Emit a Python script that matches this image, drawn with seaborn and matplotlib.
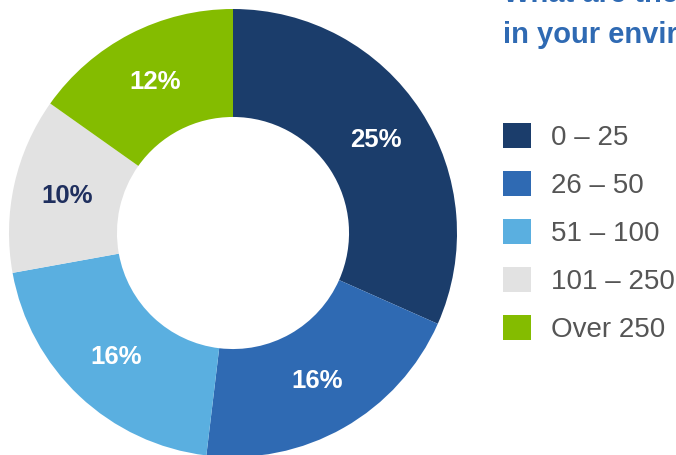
import matplotlib
matplotlib.use("Agg")
import matplotlib.pyplot as plt
import seaborn as sns

# Team size buckets and share of respondents (%)
categories = ["0 \u2013 25", "26 \u2013 50", "51 \u2013 100", "101 \u2013 250", "Over 250"]
shares = [25, 16, 16, 10, 12]
colors = ["#1b3d6b", "#2f6ab3", "#5aafe0", "#e2e2e2", "#84bc00"]
label_colors = ["white", "white", "white", "#1f2f5e", "white"]
title = "What are the typical team sizes\nin your environment?"

sns.set_theme(style="white")
plt.rcParams["font.family"] = ["Liberation Sans", "DejaVu Sans"]
palette = sns.color_palette(colors)

W, H = 676, 455
fig = plt.figure(figsize=(W / 100, H / 100), dpi=100)
fig.patch.set_facecolor("white")

# Donut occupies a square region on the left
cx, cy, r = 233, 233, 224
ax = fig.add_axes([(cx - r) / W, (H - cy - r) / H, 2 * r / W, 2 * r / H])
total = sum(shares)
wedges, _, autotexts = ax.pie(
    shares,
    colors=palette,
    startangle=90,
    counterclock=False,
    radius=1,
    wedgeprops=dict(width=0.482, linewidth=0),
    autopct=lambda p: f"{round(p * total / 100)}%",
    pctdistance=0.76,
    textprops=dict(fontsize=18.5, fontweight="bold"),
)
for t, c in zip(autotexts, label_colors):
    t.set_color(c)
ax.set_xlim(-1, 1)
ax.set_ylim(-1, 1)
ax.set_aspect("equal")
ax.axis("off")

# Title, partly running off the top-right edge
fig.text(503 / W, 1 - 43 / H, title, ha="left", va="baseline",
         fontsize=21, fontweight="bold", color="#2f6ab3",
         linespacing=1.6)

# Legend
fs = 20
fig.legend(
    wedges, categories,
    loc="upper left",
    bbox_to_anchor=(503 / W, 1 - 123 / H),
    frameon=False,
    fontsize=fs,
    handlelength=1.0,
    handleheight=1.0,
    handletextpad=0.72,
    labelspacing=0.72,
    borderpad=0,
    borderaxespad=0,
    labelcolor="#555555",
)

fig.savefig("out.png", dpi=100, facecolor="white")
